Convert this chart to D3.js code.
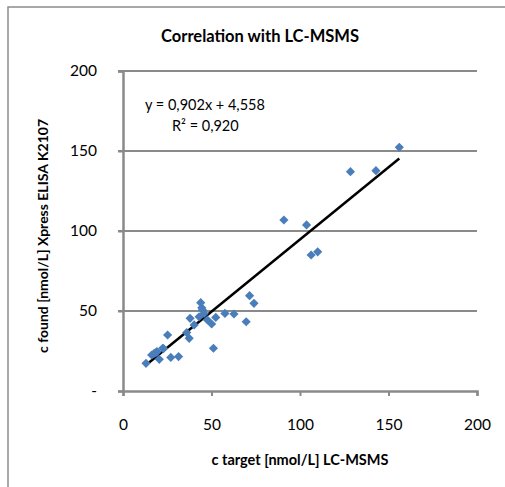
<!DOCTYPE html>
<meta charset="utf-8" />
<script src="https://d3js.org/d3.v7.min.js"></script>
<style>
  body { margin: 0; background: #fff; }
  text { font-family: Lato, "Open Sans", sans-serif; fill: #000; }
</style>
<body>
<div id="chart"></div>
<script>
  // LC-MSMS target values (x) and ELISA found values (y)
  var targetValues = [13, 16.2, 17.6, 18.6, 19.2, 20.5, 22.4, 22.9, 25.2, 27, 31.4,
    36, 37.4, 37.9, 40.2, 43, 43.9, 44.9, 45.8, 44.5, 47.7, 50.1, 51.1, 52.4,
    57.6, 62.7, 69.6, 71.5, 74, 90.9, 103.7, 106.3, 110, 128.5, 142.9, 156.1];
  var foundValues = [17.3, 22.5, 23.5, 24, 24.6, 19.8, 26.7, 26.5, 35, 21, 21.5,
    36.5, 32.9, 45.4, 41.3, 46.4, 55.2, 50.6, 48.5, 52, 44.4, 41.9, 26.7, 46,
    48.5, 48.1, 43.3, 59.6, 54.8, 106.9, 103.8, 85, 87, 137.1, 137.7, 152.3];
  var xTicks = [0, 50, 100, 150, 200];
  var yTicks = [0, 50, 100, 150, 200];
  var slope = 0.902, intercept = 4.558;
  var equationLabel = "y = 0,902x + 4,558";
  var r2Label = "R² = 0,920";

  var W = 505, H = 487;
  var svg = d3.select("#chart").append("svg")
    .attr("width", W).attr("height", H);

  // outer chart border (only left/top visible in the crop)
  svg.append("rect")
    .attr("x", 8).attr("y", 7).attr("width", 600).attr("height", 600)
    .attr("fill", "none").attr("stroke", "#8c8c8c").attr("stroke-width", 1.5);

  var x = d3.scaleLinear().domain([0, 200]).range([123, 477]);
  var y = d3.scaleLinear().domain([0, 200]).range([391, 71]);
  var grey = "#8a8a8a";

  // horizontal gridlines
  svg.append("g").selectAll("line")
    .data(yTicks.slice(1))
    .join("line")
    .attr("x1", x(0) - 5).attr("x2", x(200))
    .attr("y1", d => y(d)).attr("y2", d => y(d))
    .attr("stroke", grey).attr("stroke-width", 2);

  // y axis
  var yAxis = svg.append("g")
    .attr("transform", "translate(" + x(0) + ",0)")
    .call(d3.axisLeft(y).tickValues(yTicks).tickSize(5).tickPadding(21)
      .tickFormat(d => d === 0 ? "-" : d));
  yAxis.select(".domain").attr("stroke", grey).attr("stroke-width", 2.5);
  yAxis.selectAll(".tick line").attr("stroke", grey).attr("stroke-width", 2);
  yAxis.selectAll("text").style("font-size", "15.5px").attr("fill", "#000");

  // x axis
  var xAxis = svg.append("g")
    .attr("transform", "translate(0," + y(0) + ")")
    .call(d3.axisBottom(x).tickValues(xTicks).tickSize(5).tickPadding(23));
  xAxis.select(".domain").attr("stroke", grey).attr("stroke-width", 2.5);
  xAxis.selectAll(".tick line").attr("stroke", grey).attr("stroke-width", 2);
  xAxis.selectAll("text").style("font-size", "15.5px").attr("fill", "#000");

  // trend line
  var xr = d3.extent(targetValues);
  svg.append("line")
    .attr("x1", x(xr[0])).attr("y1", y(slope * xr[0] + intercept))
    .attr("x2", x(xr[1])).attr("y2", y(slope * xr[1] + intercept))
    .attr("stroke", "#000").attr("stroke-width", 2.5);

  // points
  var data = targetValues.map((v, i) => ({ x: v, y: foundValues[i] }));
  svg.append("g").selectAll("path")
    .data(data)
    .join("path")
    .attr("d", d3.symbol(d3.symbolSquare, 42))
    .attr("transform", d => "translate(" + x(d.x) + "," + y(d.y) + ") rotate(45)")
    .attr("fill", "#4a7ebb");

  // title and labels
  svg.append("text")
    .attr("x", 260).attr("y", 42)
    .attr("text-anchor", "middle")
    .style("font-size", "16.5px").style("font-weight", "bold")
    .text("Correlation with LC-MSMS");

  svg.append("text")
    .attr("x", 300).attr("y", 465)
    .attr("text-anchor", "middle")
    .style("font-size", "14.5px").style("font-weight", "bold")
    .text("c target [nmol/L] LC-MSMS");

  svg.append("text")
    .attr("transform", "translate(48,236) rotate(-90)")
    .attr("text-anchor", "middle")
    .style("font-size", "14px").style("font-weight", "bold")
    .text("c found [nmol/L] Xpress ELISA K2107");

  svg.append("text")
    .attr("x", 145).attr("y", 110)
    .style("font-size", "14.5px")
    .text(equationLabel);
  svg.append("text")
    .attr("x", 172).attr("y", 131)
    .style("font-size", "14.5px")
    .text(r2Label);
</script>
</body>
